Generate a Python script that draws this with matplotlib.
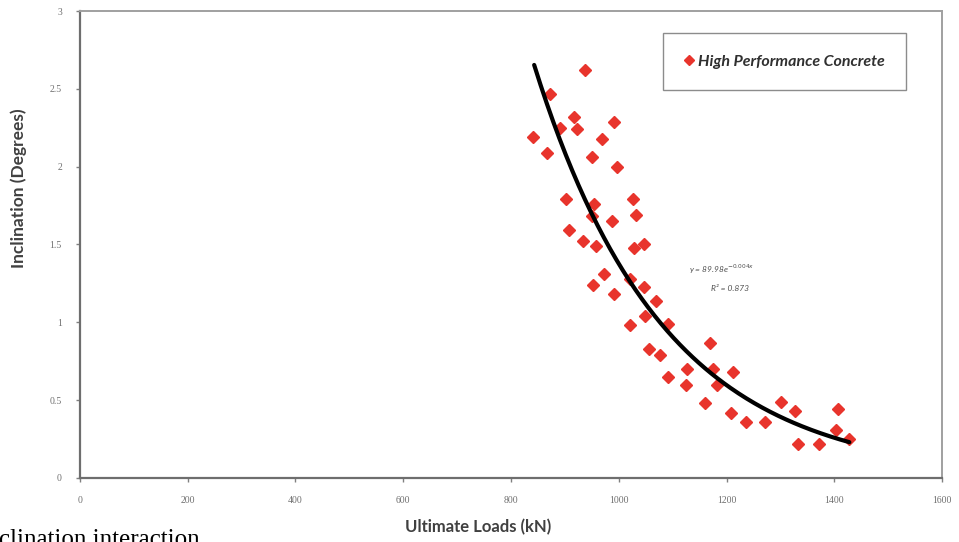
import numpy as np
import matplotlib
matplotlib.use("Agg")
import matplotlib.pyplot as plt

# Measured ultimate loads (kN) and inclination (degrees), HPC specimens
load_kn = [841, 872, 938, 917, 891, 922, 992, 968, 866, 950, 997,
           902, 954, 1027, 950, 1032, 987, 907, 934, 957, 1028, 1046,
           973, 953, 1021, 1046, 992, 1070, 1049, 1091, 1020, 1057, 1077,
           1169, 1127, 1174, 1212, 1092, 1124, 1182, 1160, 1209, 1237,
           1272, 1302, 1327, 1332, 1372, 1406, 1403, 1428]
incl_deg = [2.19, 2.47, 2.62, 2.32, 2.25, 2.24, 2.29, 2.18, 2.09, 2.06, 2.00,
            1.79, 1.76, 1.79, 1.68, 1.69, 1.65, 1.59, 1.52, 1.49, 1.48, 1.50,
            1.31, 1.24, 1.28, 1.23, 1.18, 1.14, 1.04, 0.99, 0.98, 0.83, 0.79,
            0.87, 0.70, 0.70, 0.68, 0.65, 0.60, 0.60, 0.48, 0.42, 0.36,
            0.36, 0.49, 0.43, 0.22, 0.22, 0.44, 0.31, 0.25]

# exponential trendline y = a*exp(-b*x)
fit_a = 89.98
fit_b = 0.00418
fit_r2 = 0.873
fit_range = [843, 1428]

xticks = [0, 200, 400, 600, 800, 1000, 1200, 1400, 1600]
yticks = [0, 0.5, 1, 1.5, 2, 2.5, 3]

fig = plt.figure(figsize=(9.59, 5.42), dpi=100)
ax = fig.add_axes([0.0834, 0.1181, 0.8989, 0.8616])

ax.plot(load_kn, incl_deg, linestyle="none", marker="D", ms=5.8,
        color="#e8342c", mec="#e8342c", label="High Performance Concrete")

xf = np.linspace(fit_range[0], fit_range[1], 200)
ax.plot(xf, fit_a * np.exp(-fit_b * xf), color="black", lw=3, solid_capstyle="round")

ax.set_xlim(0, 1600)
ax.set_ylim(0, 3)
ax.set_xticks(xticks)
ax.set_yticks(yticks)
ax.set_xticklabels([str(t) for t in xticks])
ax.set_yticklabels([("%g" % t) for t in yticks])
ax.tick_params(direction="out", length=3, width=1, color="#808080",
               labelsize=7, labelcolor="#707070", pad=10)
for lbl in ax.get_xticklabels() + ax.get_yticklabels():
    lbl.set_family("Liberation Serif")

for side in ["left", "bottom"]:
    ax.spines[side].set_color("#6e6e6e")
    ax.spines[side].set_linewidth(1.6)
for side in ["top", "right"]:
    ax.spines[side].set_color("#a0a0a0")
    ax.spines[side].set_linewidth(1.4)

ax.set_xlabel("Ultimate Loads (kN)", family="Lato", weight="bold",
              fontsize=12, color="#404040")
ax.xaxis.set_label_coords(0.462, -0.088)
ax.set_ylabel("Inclination (Degrees)", family="Lato", weight="bold",
              fontsize=12.5, color="#404040")
ax.yaxis.set_label_coords(-0.0615, 0.62)

ax.text(1192, 1.34, "y = %.2fe$^{-0.004x}$" % fit_a, family="Lato", style="italic",
        fontsize=6, color="#505050", ha="center", va="center")
ax.text(1206, 1.22, "R² = %.3f" % fit_r2, family="Lato", style="italic",
        fontsize=6, color="#505050", ha="center", va="center")

leg = ax.legend(loc="center", bbox_to_anchor=(0.8173, 0.892), frameon=True,
                fancybox=False, borderpad=1.35, handlelength=0.55,
                handletextpad=0.3, markerscale=0.9,
                prop={"family": "Lato", "weight": "bold", "style": "italic", "size": 11.5})
leg.get_frame().set_edgecolor("#707070")
leg.get_frame().set_linewidth(1.0)
for t in leg.get_texts():
    t.set_color("#303030")

fig.text(200 / 959, -4 / 542, "Inclination interaction", family="Liberation Serif",
         fontsize=18, ha="right", va="baseline", color="black")

fig.savefig("out.png", dpi=100)
